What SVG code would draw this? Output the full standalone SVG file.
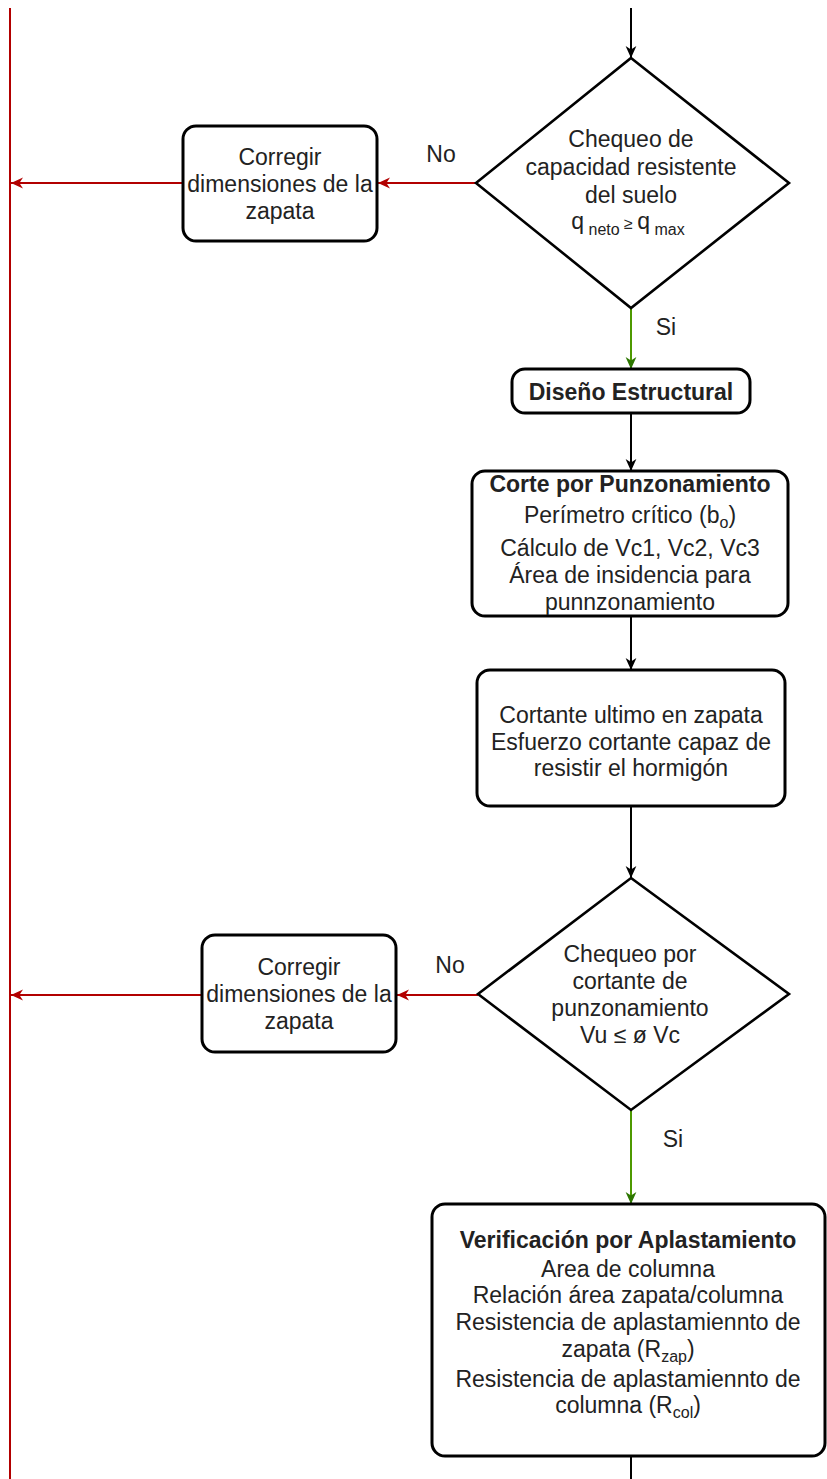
<svg xmlns="http://www.w3.org/2000/svg" width="827" height="1479" viewBox="0 0 827 1479">
<style>
text{font-family:"Liberation Sans",Arial,sans-serif;font-size:23px;fill:#222;text-anchor:middle}
.b{font-weight:bold}
.sub{font-size:16px}
.node{fill:#fff;stroke:#000;stroke-width:3}
.dia{fill:#fff;stroke:#000;stroke-width:2.6}
.c{fill:none;stroke:#000;stroke-width:2}
.r{fill:none;stroke:#B20000;stroke-width:2}
.g{fill:none;stroke:#4D9900;stroke-width:2}
</style>
<defs>
<marker id="ak" viewBox="0 0 10 10" refX="10" refY="5" markerWidth="12" markerHeight="12" markerUnits="userSpaceOnUse" orient="auto"><path d="M0,0.5 L10,5 L0,9.5 L3,5 z" fill="#000"/></marker>
<marker id="ar" viewBox="0 0 10 10" refX="10" refY="5" markerWidth="12" markerHeight="12" markerUnits="userSpaceOnUse" orient="auto"><path d="M0,0.5 L10,5 L0,9.5 L3,5 z" fill="#B20000"/></marker>
<marker id="ag" viewBox="0 0 10 10" refX="10" refY="5" markerWidth="12" markerHeight="12" markerUnits="userSpaceOnUse" orient="auto"><path d="M0,0.5 L10,5 L0,9.5 L3,5 z" fill="#2D7600"/></marker>
</defs>
<rect width="827" height="1479" fill="#fff"/>

<g id="connectors">
<line class="r" x1="10" y1="8" x2="10" y2="1479"/>
<line class="c" x1="631" y1="8" x2="631" y2="58" marker-end="url(#ak)"/>
<line class="r" x1="477" y1="183" x2="378" y2="183" marker-end="url(#ar)"/>
<line class="r" x1="183" y1="183" x2="11" y2="183" marker-end="url(#ar)"/>
<line class="g" x1="631" y1="308" x2="631" y2="369" marker-end="url(#ag)"/>
<line class="c" x1="631" y1="413" x2="631" y2="471" marker-end="url(#ak)"/>
<line class="c" x1="631" y1="617" x2="631" y2="670" marker-end="url(#ak)"/>
<line class="c" x1="631" y1="806" x2="631" y2="878" marker-end="url(#ak)"/>
<line class="r" x1="478" y1="995" x2="397" y2="995" marker-end="url(#ar)"/>
<line class="r" x1="202" y1="995" x2="11" y2="995" marker-end="url(#ar)"/>
<line class="g" x1="631" y1="1110" x2="631" y2="1204" marker-end="url(#ag)"/>
<line class="c" x1="631" y1="1457" x2="631" y2="1479"/>
<text x="441" y="162">No</text>
<text x="666" y="335">Si</text>
<text x="450" y="973">No</text>
<text x="673" y="1147">Si</text>
</g>

<g id="decision1">
<polygon class="dia" points="631,58 789,183 631,308 476,183"/>
<text x="631" y="147">Chequeo de</text>
<text x="631" y="175">capacidad resistente</text>
<text x="631" y="203">del suelo</text>
<text x="628" y="229">q<tspan class="sub" dy="6"> neto</tspan><tspan class="sub" dy="-6"> ≥ </tspan>q<tspan class="sub" dy="6"> max</tspan></text>
</g>

<g id="fix1">
<rect class="node" x="183" y="126" width="194" height="115" rx="13"/>
<text x="280" y="165">Corregir</text>
<text x="280" y="192">dimensiones de la</text>
<text x="280" y="219">zapata</text>
</g>

<g id="diseno">
<rect class="node" x="512" y="369" width="238" height="44" rx="13"/>
<text class="b" x="631" y="400">Diseño Estructural</text>
</g>

<g id="corte">
<rect class="node" x="472" y="471" width="316" height="145" rx="13"/>
<text class="b" x="630" y="492">Corte por Punzonamiento</text>
<text x="630" y="523">Perímetro crítico (b<tspan class="sub" dy="5">o</tspan><tspan dy="-5">)</tspan></text>
<text x="630" y="556">Cálculo de Vc1, Vc2, Vc3</text>
<text x="630" y="583">Área de insidencia para</text>
<text x="630" y="610">punnzonamiento</text>
</g>

<g id="cortante">
<rect class="node" x="477" y="670" width="308" height="136" rx="13"/>
<text x="631" y="723">Cortante ultimo en zapata</text>
<text x="631" y="750">Esfuerzo cortante capaz de</text>
<text x="631" y="776">resistir el hormigón</text>
</g>

<g id="decision2">
<polygon class="dia" points="631,878 789,994 631,1110 478,994"/>
<text x="630" y="962">Chequeo por</text>
<text x="630" y="989">cortante de</text>
<text x="630" y="1016">punzonamiento</text>
<text x="630" y="1043">Vu ≤ ø Vc</text>
</g>

<g id="fix2">
<rect class="node" x="202" y="935" width="194" height="117" rx="13"/>
<text x="299" y="975">Corregir</text>
<text x="299" y="1002">dimensiones de la</text>
<text x="299" y="1029">zapata</text>
</g>

<g id="aplastamiento">
<rect class="node" x="432" y="1204" width="393" height="252" rx="13"/>
<text class="b" x="628" y="1248">Verificación por Aplastamiento</text>
<text x="628" y="1277">Area de columna</text>
<text x="628" y="1303">Relación área zapata/columna</text>
<text x="628" y="1330">Resistencia de aplastamiennto de</text>
<text x="628" y="1357">zapata (R<tspan class="sub" dy="5">zap</tspan><tspan dy="-5">)</tspan></text>
<text x="628" y="1387">Resistencia de aplastamiennto de</text>
<text x="628" y="1413">columna (R<tspan class="sub" dy="5">col</tspan><tspan dy="-5">)</tspan></text>
</g>
</svg>
